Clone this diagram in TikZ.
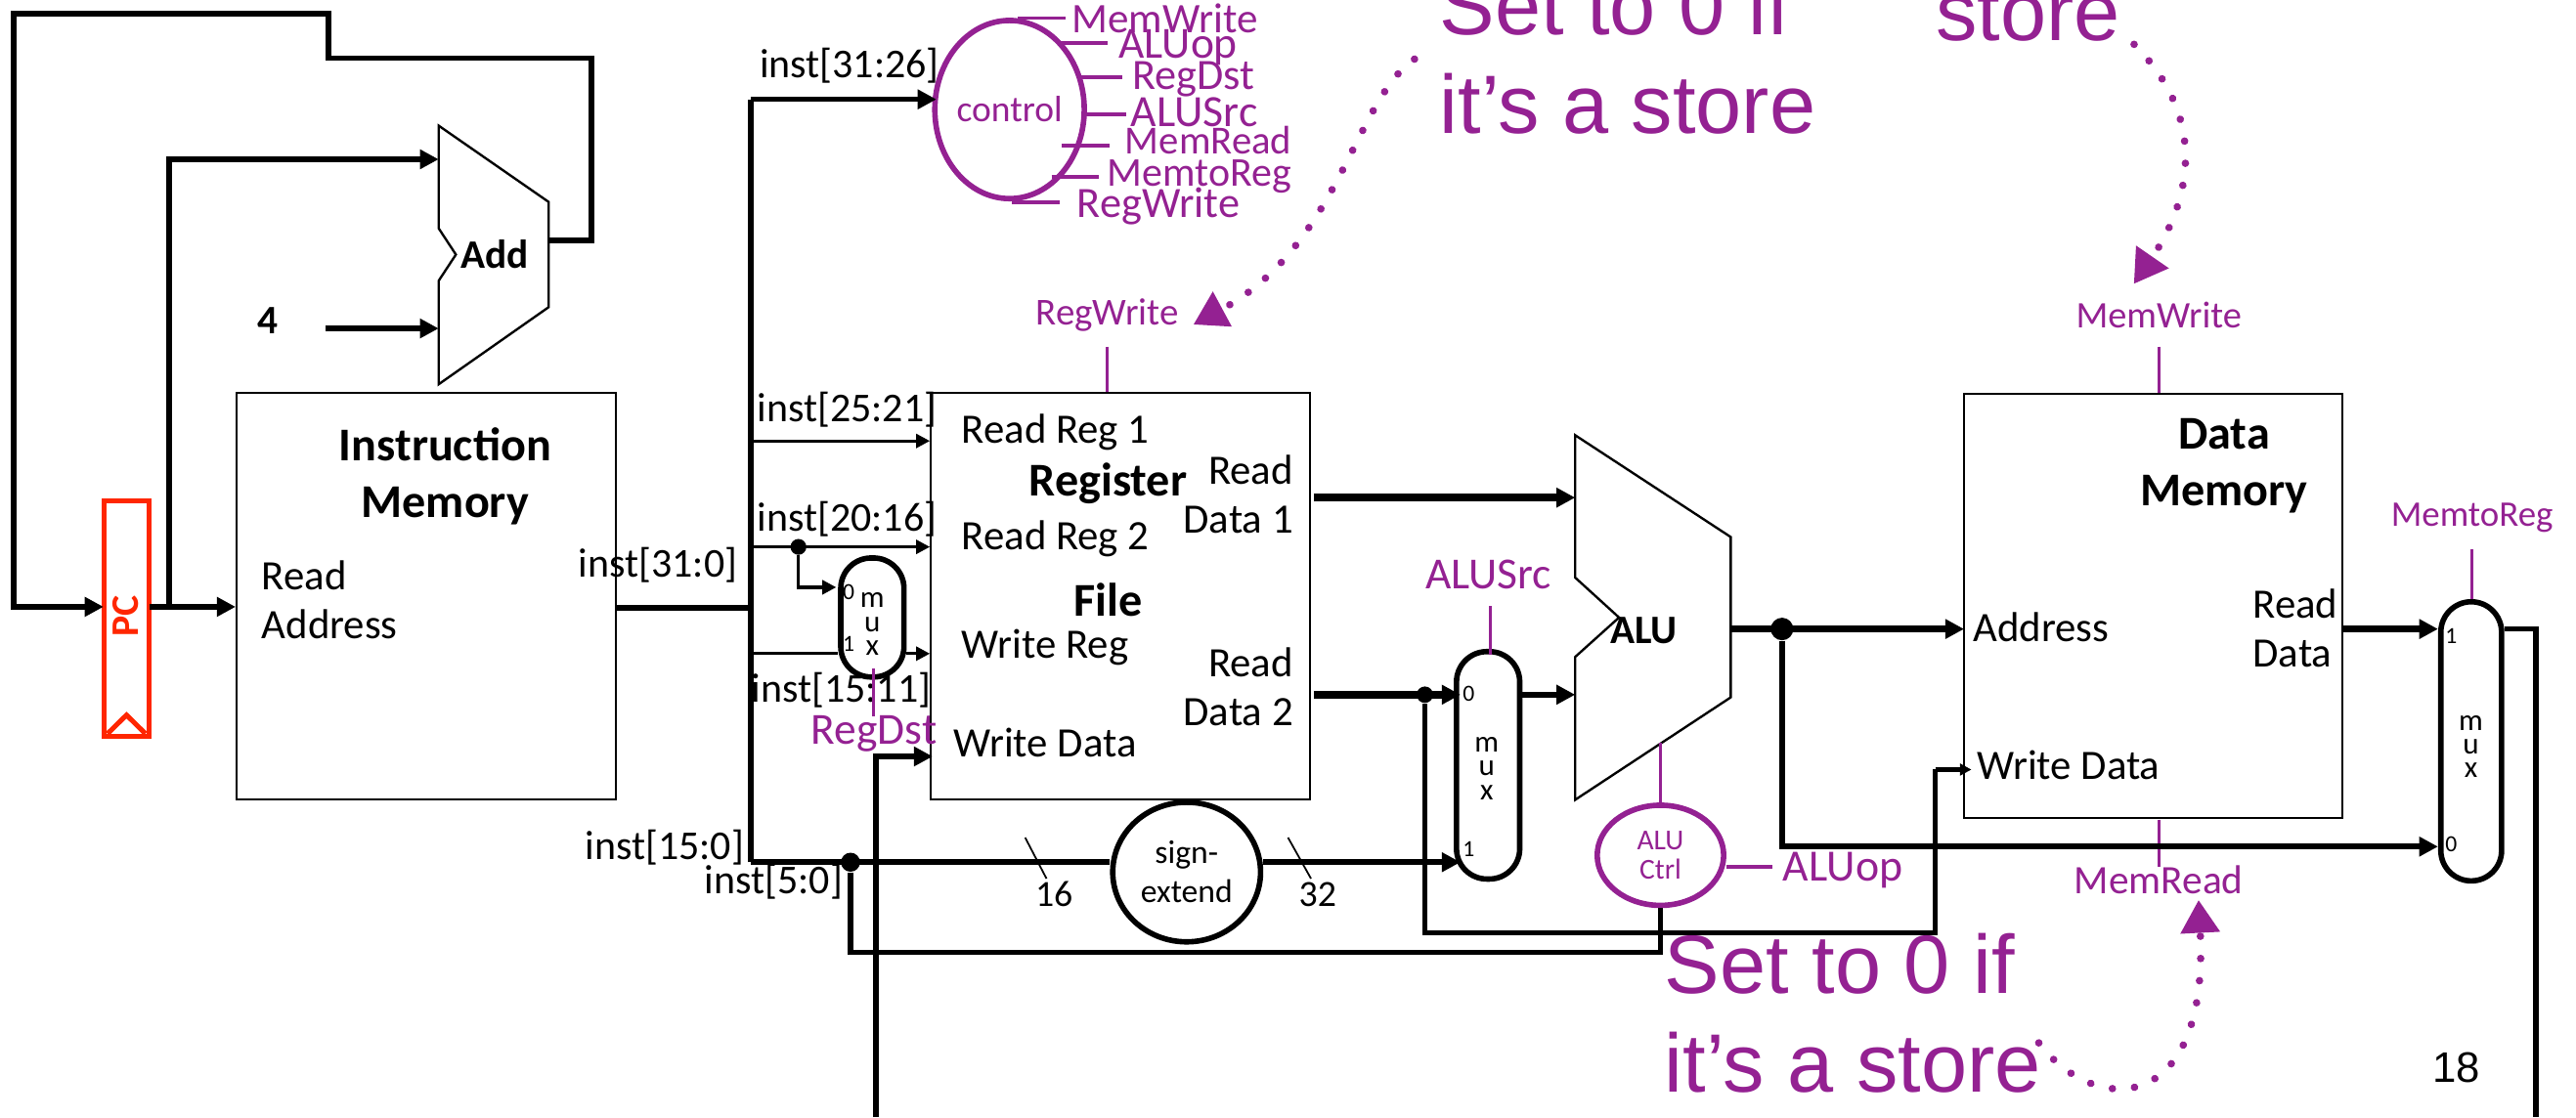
\documentclass[tikz,border=0pt]{standalone}
\usepackage{fontspec}
\setmainfont{Carlito}
\newfontfamily\slidefont{Liberation Sans}
\usetikzlibrary{arrows.meta,shapes.geometric}
\definecolor{slidepurple}{RGB}{148,33,146}
\definecolor{pcred}{RGB}{255,38,0}
\newcommand{\fs}[1]{\fontsize{#1}{#1}\selectfont}
\tikzset{
  block/.style={rectangle, draw=black, line width=0.7pt, inner sep=0pt},
  pcreg/.style={rectangle, draw=pcred, line width=1.7pt, inner sep=0pt,
                minimum width=0.54cm, minimum height=2.87cm},
  muxnode/.style={rectangle, draw=black, fill=white, line width=1.9pt, inner sep=0pt,
                  rounded corners=0.37cm, minimum width=0.77cm},
  muxtxt/.style={inner sep=0pt, align=center, font=\fontsize{10.5}{8.2}\selectfont},
  bubble/.style={ellipse, draw=black, fill=white, line width=1.9pt, inner sep=0pt, align=center},
  pbubble/.style={bubble, draw=slidepurple, text=slidepurple, fill=none},
  unitshape/.style={draw=black, line width=0.8pt, line join=miter},
  txt/.style={inner sep=0pt, font=\fs{14.5}},
  insttxt/.style={inner sep=0pt, font=\fs{14.2}},
  labeltxt/.style={inner sep=0pt, font=\fontsize{14.5}{17}\selectfont},
  titletxt/.style={inner sep=0pt, font=\fontsize{16.3}{19.6}\selectfont\bfseries, align=center},
  boldtxt/.style={inner sep=0pt, font=\fs{14}\bfseries},
  ptxt/.style={inner sep=0pt, text=slidepurple},
  bigtxt/.style={inner sep=0pt, anchor=base west, text=slidepurple, font=\slidefont\fs{28.7}},
  muxbit/.style={inner sep=0pt, font=\fs{8}},
  joint/.style={circle, fill=black, inner sep=0pt},
  wbus/.style={line width=1.9pt},
  wdata/.style={line width=2.6pt},
  wthin/.style={line width=1.1pt},
  wtick/.style={line width=0.6pt},
  tipbig/.style={-{Triangle[length=6.5pt,width=6.5pt]}},
  tipsmall/.style={-{Triangle[length=4.8pt,width=4.8pt]}},
  pstub/.style={slidepurple, line width=1.3pt},
  pline/.style={slidepurple, line width=1pt},
  pdots/.style={slidepurple, line width=2.6pt, line cap=round, dash pattern=on 0.01pt off 7.7pt,
                -{Triangle[length=0.4cm,width=0.46cm,sep=0.1cm]}},
}
\begin{document}
\begin{tikzpicture}[x=0.02cm,y=-0.02cm]
  \useasboundingbox (0,0) rectangle (1568,680.2);

  \node[pcreg] (pc) at (77,376.5) {};
  \node[inner sep=0pt, text=pcred, font=\fs{13.5}\bfseries, rotate=90] (pcname) at (76.4,375.3) {PC};
  \coordinate (clkA) at (65.5,446.7);
  \coordinate (clkB) at (77,435.4);
  \coordinate (clkC) at (88.5,446.7);
  \draw[pcred, line width=1.7pt] (clkA) -- (clkB) -- (clkC);

  \node[block, minimum width=4.62cm, minimum height=4.96cm] (imem) at (259.5,363) {};
  \node[block, minimum width=4.62cm, minimum height=4.96cm] (rfile) at (682.1,363) {};
  \node[block, minimum width=4.60cm, minimum height=5.16cm] (dmem) at (1310.6,368.9) {};

  \draw[unitshape] (267,76.5) coordinate (addTop) -- (334,123) -- (334,187) -- (267,234) coordinate (addBot)
    -- (267,171) -- (277.5,155) -- (267,139) -- cycle;
  \draw[unitshape] (958.8,265) coordinate (aluTop) -- (1053.5,327) -- (1053.5,424.6) -- (958.8,487) coordinate (aluBot)
    -- (958.8,400) -- (985.5,376) -- (958.8,351.7) -- cycle;

  \node[muxnode, minimum height=1.45cm] (muxreg) at (531,376) {};
  \node[muxnode, minimum height=2.77cm] (muxalu) at (905.8,466) {};
  \node[muxnode, minimum width=0.74cm, minimum height=3.4cm] (muxmem) at (1504.2,451.4) {};
  \node[muxtxt] (muxregtxt) at (531,380) {m\\u\\x};
  \node[muxtxt] (muxalutxt) at (905,468) {m\\u\\x};
  \node[muxtxt] (muxmemtxt) at (1504,454.5) {m\\u\\x};
  \node[muxbit] (bitRa) at (516.6,360.6) {0};
  \node[muxbit] (bitRb) at (516.6,392) {1};
  \node[muxbit] (bitAa) at (894,422.6) {0};
  \node[muxbit] (bitAb) at (894,517) {1};
  \node[muxbit] (bitMa) at (1492,387.5) {1};
  \node[muxbit] (bitMb) at (1492,514) {0};

  \node[bubble, font=\fontsize{11.4}{13.5}\selectfont, minimum width=1.80cm, minimum height=1.70cm] (sext) at (722.3,531) {sign-\\extend};
  \node[pbubble, font=\fontsize{10}{10}\selectfont, minimum width=1.54cm, minimum height=1.22cm] (aluctl) at (1010.7,520.8) {ALU\\Ctrl};
  \node[pbubble, font=\fs{12.7}, minimum width=1.68cm, minimum height=2.17cm] (ctl) at (614.5,66.7) {control};

  \node[boldtxt] (addname) at (301,155) {Add};
  \node[boldtxt] (aluname) at (1000.5,384) {ALU};
  \node[boldtxt] (four) at (163,195) {4};
  \node[titletxt] (imemname) at (271,290) {Instruction\\Memory};
  \node[titletxt] (dmemname) at (1353.8,283.4) {Data\\Memory};
  \node[titletxt] (rfreg) at (674.5,294.6) {Register};
  \node[titletxt] (rffile) at (674.5,365) {File};

  \node[labeltxt, anchor=base west, align=left] (imaddr) at (159,389) {Read\\Address};
  \node[txt, anchor=west] (rfa) at (585,263.5) {Read Reg 1};
  \node[txt, anchor=west] (rfb) at (585,328) {Read Reg 2};
  \node[txt, anchor=west] (rfc) at (585,394) {Write Reg};
  \node[txt, anchor=west] (rfd) at (580,452.5) {Write Data};
  \node[labeltxt, anchor=east, align=right] (rfe) at (787.5,301) {Read\\Data 1};
  \node[labeltxt, anchor=east, align=right] (rff) at (787.5,418) {Read\\Data 2};
  \node[txt, anchor=west] (dma) at (1200.7,382) {Address};
  \node[txt, anchor=west] (dmb) at (1203,466) {Write Data};
  \node[labeltxt, anchor=west, align=left] (dmc) at (1371,382.5) {Read\\Data};

  \node[insttxt] (iA) at (517,40) {inst[31:26]};
  \node[insttxt] (iB) at (515.6,249.5) {inst[25:21]};
  \node[insttxt] (iC) at (515.6,316) {inst[20:16]};
  \node[insttxt] (iD) at (512,420) {inst[15:11]};
  \node[insttxt] (iE) at (400.5,344) {inst[31:0]};
  \node[insttxt] (iF) at (404.5,516) {inst[15:0]};
  \node[insttxt] (iG) at (471,537) {inst[5:0]};
  \node[inner sep=0pt, font=\fs{12.8}] (wsixteen) at (641.6,544.6) {16};
  \node[inner sep=0pt, font=\fs{12.8}] (wthirtytwo) at (802,544.6) {32};

  \node[ptxt, font=\fs{13.2}] (lRegWrite) at (674,192) {RegWrite};
  \node[ptxt, font=\fs{15.4}] (lRegDst) at (532,446.5) {RegDst};
  \node[ptxt, font=\fs{15.4}] (lALUSrc) at (906,350) {ALUSrc};
  \node[ptxt, font=\fs{15.5}] (lALUop) at (1121.7,530) {ALUop};
  \node[ptxt, font=\fs{13}] (lMemWrite) at (1314,192) {MemWrite};
  \node[ptxt, font=\fs{14}] (lMemRead) at (1314,536) {MemRead};
  \node[ptxt, font=\fs{12.5}] (lMemtoReg) at (1504.7,315.4) {MemtoReg};

  \node[ptxt, font=\fs{14.6}, anchor=base west] (cA) at (652,19.8) {MemWrite};
  \node[ptxt, font=\fs{15.4}, anchor=base west] (cB) at (680.6,35.3) {ALUop};
  \node[ptxt, font=\fs{15}, anchor=base west] (cC) at (689,54.6) {RegDst};
  \node[ptxt, font=\fs{15.5}, anchor=base west] (cD) at (688,77) {ALUSrc};
  \node[ptxt, font=\fs{13.8}, anchor=base west] (cE) at (684.5,94) {MemRead};
  \node[ptxt, font=\fs{14.2}, anchor=base west] (cF) at (673.6,113.5) {MemtoReg};
  \node[ptxt, font=\fs{15}, anchor=base west] (cG) at (655.4,132.5) {RegWrite};

  \node[bigtxt] (noteAa) at (876,21) {Set to 0 if};
  \node[bigtxt] (noteAb) at (876,81) {it’s a store};
  \node[bigtxt] (noteB) at (1178,24.7) {store};
  \node[bigtxt] (noteCa) at (1013,605) {Set to 0 if};
  \node[bigtxt] (noteCb) at (1013,665) {it’s a store};
  \node[inner sep=0pt, font=\slidefont\fs{14.8}] (slideno) at (1495,650) {18};

  \foreach \nm/\xa/\xb/\yy in {sa/619.5/648.7/11, sb/644.7/674.3/26.4, sc/656/683.4/47.2, sd/658/685.5/69.4,
                               se/646.3/675.4/88.7, sf/640/669/107.7, sg/616/645.3/123.4}{
    \coordinate (\nm in) at (\xa,\yy);
    \coordinate (\nm out) at (\xb,\yy);
    \draw[pstub] (\nm in) -- (\nm out);
  }
  \coordinate (pa) at (674,211);
  \coordinate (pb) at (1314.2,211);
  \coordinate (pc2) at (1504.7,334.3);
  \coordinate (pd) at (907,369);
  \coordinate (pe) at (907,398.6);
  \coordinate (pf) at (531.6,407);
  \coordinate (pg) at (531.6,436);
  \coordinate (ph) at (1314,499);
  \coordinate (pi) at (1314,528);
  \coordinate (pj) at (1010.7,452);
  \coordinate (pk) at (1079,527.8);
  \draw[pline] (pa) -- (pa |- rfile.north);
  \draw[pline] (pb) -- (pb |- dmem.north);
  \draw[pline] (pc2) -- (pc2 |- muxmem.north);
  \draw[pline] (pd) -- (pe);
  \draw[pline] (pf) -- (pg);
  \draw[pline] (ph) -- (pi);
  \draw[pstub] (pj) -- (aluctl.north);
  \draw[pstub] (aluctl.east |- pk) -- (pk);

  \coordinate (fbA) at (8.5,8.5);
  \coordinate (fbB) at (200,8.5);
  \coordinate (fbC) at (200,35.5);
  \coordinate (fbD) at (360,35.5);
  \coordinate (fbE) at (360,146.5);
  \coordinate (addOut) at (334,146.5);
  \coordinate (pcIn) at (63,369.5);
  \coordinate (pcOut) at (91,369.5);
  \coordinate (pcUp) at (103,369.5);
  \coordinate (addInA) at (267,97);
  \coordinate (fourOut) at (198,200);
  \coordinate (addInB) at (267,200);
  \draw[wbus, tipbig] (addOut) -- (fbE) -- (fbD) -- (fbC) -- (fbB) -- (fbA) -- (fbA |- pcIn) -- (pcIn);
  \draw[wbus, tipbig] (pcOut) -- (pcOut -| imem.west);
  \draw[wbus, tipbig] (pcUp) -- (pcUp |- addInA) -- (addInA);
  \draw[wbus, tipbig] (fourOut) -- (addInB);

  \coordinate (busTop) at (457,60.5);
  \coordinate (busMid) at (457,370);
  \coordinate (busLow) at (457,525);
  \coordinate (ctlIn) at (570,60.5);
  \coordinate (busB) at (457,268.5);
  \coordinate (busC) at (457,333);
  \coordinate (busD) at (457,398);
  \coordinate (rfOutA) at (800,303);
  \coordinate (rfOutB) at (800,423);
  \coordinate (aluInA) at (958.8,303);
  \coordinate (aluInB) at (958.8,423);
  \draw[wbus] (imem.east |- busMid) -- (busMid);
  \draw[wbus] (busLow) -- (busTop);
  \draw[wbus, tipbig] (busTop) -- (ctlIn);
  \draw[wthin, tipsmall] (busB) -- (busB -| rfile.west);
  \draw[wthin, tipsmall] (busC) -- (busC -| rfile.west);
  \draw[wthin] (busD) -- (busD -| muxreg.west);
  \draw[wthin, tipsmall] (busD -| muxreg.east) -- (busD -| rfile.west);
  \node[joint, minimum size=5.5pt] (jReg) at (486,333) {};
  \coordinate (muxregIn) at (509,357.6);
  \draw[wthin, tipsmall] (jReg) -- (jReg |- muxregIn) -- (muxregIn);

  \node[joint, minimum size=6.6pt] (jLow) at (517.7,525) {};
  \coordinate (sextIn) at (sext.east |- busLow);
  \coordinate (muxaluInB) at (889,525);
  \coordinate (ctlDown) at (1010.7,580);
  \draw[wbus] (busLow) -- (busLow -| sext.west);
  \draw[wbus, tipbig] (sextIn) -- (muxaluInB);
  \draw[wbus] (jLow) -- (jLow |- ctlDown) -- (ctlDown) -- (aluctl.south);

  \coordinate (wdBottom) at (533,680.2);
  \coordinate (wdIn) at (567.7,460.6);
  \draw[wbus, tipbig] (wdBottom) -- (wdBottom |- wdIn) -- (wdIn);

  \coordinate (tickAa) at (624,510);
  \coordinate (tickAb) at (637,535);
  \coordinate (tickBa) at (784,510);
  \coordinate (tickBb) at (798,535);
  \draw[wtick] (tickAa) -- (tickAb);
  \draw[wtick] (tickBa) -- (tickBb);

  \coordinate (muxaluInA) at (889,423);
  \draw[wdata, tipbig] (rfOutA) -- (aluInA);
  \draw[wdata, tipbig] (rfOutB) -- (muxaluInA);
  \draw[wbus, tipbig] (muxalu.east |- aluInB) -- (aluInB);
  \node[joint, minimum size=5.7pt] (jB) at (867.3,423) {};
  \coordinate (wrA) at (867.3,568);
  \coordinate (wrB) at (1178,568);
  \coordinate (wrC) at (1178,468.6);
  \coordinate (wrD) at (1200,468.6);
  \draw[wbus] (jB) -- (wrA) -- (wrB) -- (wrC);
  \draw[wbus, -{Triangle[length=4pt,width=4pt]}] (wrC) -- (wrD);

  \coordinate (aluOut) at (1053.5,383);
  \coordinate (memAddr) at (1195.5,383);
  \coordinate (muxmemA) at (1484,383);
  \coordinate (muxmemB) at (1484,515.5);
  \coordinate (memOut) at (1543.7,383);
  \coordinate (memBottom) at (1543.7,680.2);
  \node[joint, minimum size=7.8pt] (jC) at (1084.7,383) {};
  \draw[wdata, tipbig] (aluOut) -- (memAddr);
  \draw[wbus, tipbig] (jC) -- (jC |- muxmemB) -- (muxmemB);
  \draw[wdata, tipbig] (dmem.east |- memAddr) -- (muxmemA);
  \draw[wbus] (muxmem.east |- memOut) -- (memOut) -- (memBottom);

  \coordinate (dotAs) at (861,36);
  \coordinate (dotAe) at (722,200);
  \coordinate (dotBs) at (1299,27);
  \coordinate (dotBe) at (1296,177);
  \coordinate (dotCs) at (1241,635);
  \coordinate (dotCe) at (1338,543);
  \draw[pdots] (dotAs) .. controls (825,60) and (815,150) .. (dotAe);
  \draw[pdots] (dotBs) .. controls (1352,80) and (1325,135) .. (dotBe);
  \draw[pdots] (dotCs) .. controls (1275,680) and (1345,680) .. (dotCe);
\end{tikzpicture}
\end{document}
